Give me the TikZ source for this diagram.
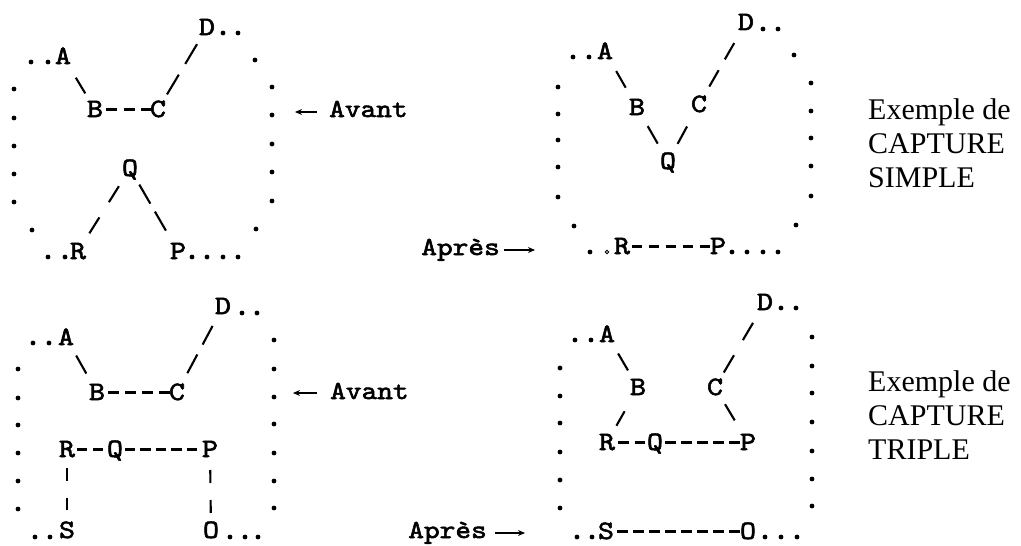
\documentclass[tikz,border=0pt]{standalone}
\usepackage{fontspec}
\usetikzlibrary{arrows.meta}
\newfontfamily\tw{lmmono10-regular.otf}[FakeBold=2.2, FakeStretch=1.15]
\newfontfamily\txtserif{Liberation Serif}
\newcommand\typedots[1]{\foreach \p in {#1} \fill \p circle[radius=2.4pt];}

\tikzset{
  letter/.style={font=\tw\fontsize{26.5}{26.5}\selectfont, inner sep=0pt,
    anchor=base, text height=15pt, text depth=0pt},
  label/.style={font=\tw\fontsize{26}{26}\selectfont, inner sep=0pt,
    text height=15pt, text depth=0pt},
  caption/.style={font=\txtserif\fontsize{30}{34}\selectfont, inner sep=0pt,
    anchor=base west},
  % one typed slash between two letters
  bar/.style 2 args={line width=2.1pt, shorten <=#1, shorten >=#2},
  % two typed slashes (or bars) between two letters
  slash/.style n args={4}{line width=2.1pt, shorten <=#1, shorten >=#2,
    dash pattern=on #3 off #4},
  % a run of typed hyphens
  hyph/.style n args={4}{line width=2.8pt, shorten <=#1, shorten >=#2,
    dash pattern=on #3 off #4},
  ptr/.style={line width=1.7pt, -{Stealth[length=7pt,width=6pt]}},
}

\begin{document}
\begin{tikzpicture}[x=1pt,y=-1pt]
\path[fill=white] (0,0) rectangle (1021,546);
\useasboundingbox (0,0) rectangle (1021,546);

% ---------- top left: before ----------
\node[letter] (aA) at (63,64) {A};
\node[letter] (aB) at (95,117) {B};
\node[letter] (aC) at (158,117) {C};
\node[letter] (aD) at (207,35) {D};
\node[letter] (aQ) at (130,176) {Q};
\node[letter] (aR) at (78,259) {R};
\node[letter] (aP) at (178,259) {P};
\draw[bar={24.8}{18.8}] (aA.center) -- (aB.center);
\draw[slash={17.6}{19.4}{23}{12.5}] (aC.center) -- (aD.center);
\draw[slash={20.9}{21.4}{18.8}{18}] (aQ.center) -- (aR.center);
\draw[slash={18.6}{24.1}{22}{9.2}] (aQ.center) -- (aP.center);
\draw[hyph={11}{6}{11}{6.5}] (aB.center) -- (aC.center);
\typedots{(31,62),(48,62),(223,33),(238,33),(48,257),(65,257),
  (192,257),(207,257),(223,257),(238,257)}
\typedots{(14,89),(14,118),(14,146),(14,174),(14,202),(32,230)}
\typedots{(255,60),(272,87),(272,115),(272,144),(272,172),(272,201),(256,229)}

\node[label, anchor=base west] (avA) at (329,117) {Avant};
\coordinate (avAtip) at (295,112);
\draw[ptr] ([xshift=-12pt,yshift=-2.5pt]avA.west) -- (avAtip);

% ---------- top right: after ----------
\node[letter] (bA) at (605,59) {A};
\node[letter] (bB) at (637,115) {B};
\node[letter] (bC) at (699,112) {C};
\node[letter] (bD) at (746,30) {D};
\node[letter] (bQ) at (668,169) {Q};
\node[letter] (bR) at (622,254) {R};
\node[letter] (bP) at (718,254) {P};
\draw[bar={22.5}{22.8}] (bA.center) -- (bB.center);
\draw[bar={21.5}{20.6}] (bB.center) -- (bQ.center);
\draw[bar={20.1}{25}] (bQ.center) -- (bC.center);
\draw[slash={20.7}{23.7}{18.8}{12.5}] (bC.center) -- (bD.center);
\draw[hyph={10}{8}{10.4}{6.5}] (bR.center) -- (bP.center);
\typedots{(573,57),(589,57),(763,29),(778,29),(590,252),
  (732,252),(747,252),(763,252),(778,252)}
\draw[line width=0.8pt] (607,252) circle[radius=1.8pt];
\typedots{(558,87),(558,114),(558,140),(558,167),(558,197),(574,226)}
\typedots{(794,55),(811,83),(811,111),(811,138),(811,166),(811,196),(796,225)}

\node[label, anchor=base east] (apB) at (500,255) {Après};
\coordinate (apBtip) at (535,250);
\draw[ptr] ([xshift=4pt,yshift=-2.5pt]apB.east) -- (apBtip);

\node[caption] (t1) at (868,119) {Exemple de};
\node[caption] (t2) at (868,153) {CAPTURE};
\node[caption] (t3) at (868,187) {SIMPLE};

% ---------- bottom left: before ----------
\node[letter] (cA) at (66,345) {A};
\node[letter] (cB) at (97,400) {B};
\node[letter] (cC) at (177,400) {C};
\node[letter] (cD) at (223,314) {D};
\node[letter] (cR) at (67,457) {R};
\node[letter] (cQ) at (115,457) {Q};
\node[letter] (cP) at (210,457) {P};
\node[letter] (cS) at (67,538) {S};
\node[letter] (cO) at (211,538) {O};
\draw[bar={20.7}{21.8}] (cA.center) -- (cB.center);
\draw[slash={21.9}{22}{21.2}{11.2}] (cC.center) -- (cD.center);
\draw[hyph={11}{7}{11}{6}] (cB.center) -- (cC.center);
\draw[hyph={10}{12}{10}{6}] (cR.center) -- (cQ.center);
\draw[hyph={10}{13}{10.4}{5}] (cQ.center) -- (cP.center);
\draw[slash={18.5}{20.5}{12.5}{17}] (cR.center) -- (cS.center);
\draw[slash={20.5}{17.5}{13}{17}] (cP.center) -- (cO.center);
\typedots{(33,343),(49,343),(242,313),(257,313),(35,537),(50,537),
  (230,537),(245,537),(258,537)}
\typedots{(18,369),(18,398),(18,425),(18,453),(18,481),(18,509)}
\typedots{(274,340),(274,369),(274,397),(274,424),(274,453),(274,481),(274,508)}

\node[label, anchor=base west] (avC) at (330,399) {Avant};
\coordinate (avCtip) at (293,393);
\draw[ptr] ([xshift=-13pt,yshift=-1.5pt]avC.west) -- (avCtip);

% ---------- bottom right: after ----------
\node[letter] (dA) at (607,342) {A};
\node[letter] (dB) at (638,395) {B};
\node[letter] (dC) at (715,395) {C};
\node[letter] (dD) at (765,310) {D};
\node[letter] (dR) at (607,450) {R};
\node[letter] (dQ) at (655,450) {Q};
\node[letter] (dP) at (748,450) {P};
\node[letter] (dS) at (606,539) {S};
\node[letter] (dO) at (748,539) {O};
\draw[bar={22}{19.8}] (dA.center) -- (dB.center);
\draw[bar={27.3}{19.2}] (dB.center) -- (dR.center);
\draw[bar={19.5}{25.8}] (dC.center) -- (dP.center);
\draw[slash={17.4}{23.6}{20}{17.6}] (dC.center) -- (dD.center);
\draw[hyph={11}{10}{10.5}{6}] (dR.center) -- (dQ.center);
\draw[hyph={10}{8}{11}{5}] (dQ.center) -- (dP.center);
\draw[hyph={11}{8}{11}{5}] (dS.center) -- (dO.center);
\typedots{(575,340),(591,340),(781,308),(796,308),(577,537),(592,537),
  (765,537),(781,537),(797,537)}
\typedots{(560,368),(560,396),(560,423),(560,452),(560,480),(560,508)}
\typedots{(812,337),(812,366),(812,393),(812,422),(812,451),(812,479),(812,506)}

\node[label, anchor=base east] (apD) at (487,538) {Après};
\coordinate (apDtip) at (525,533);
\draw[ptr] ([xshift=8pt,yshift=-2.5pt]apD.east) -- (apDtip);

\node[caption] (t4) at (868,391) {Exemple de};
\node[caption] (t5) at (868,425) {CAPTURE};
\node[caption] (t6) at (868,459) {TRIPLE};
\end{tikzpicture}
\end{document}
